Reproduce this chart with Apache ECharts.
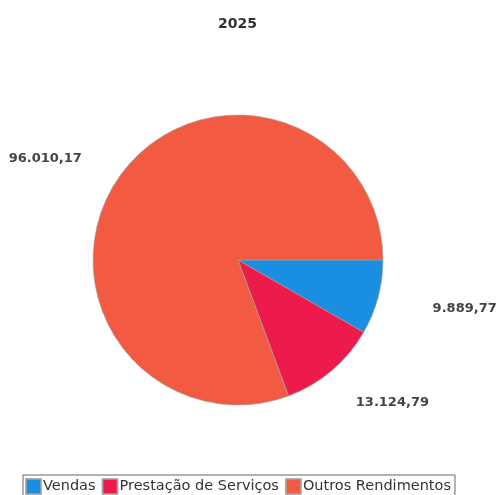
<!DOCTYPE html>
<html>
<head>
<meta charset="utf-8">
<script src="https://cdn.jsdelivr.net/npm/echarts@6/dist/echarts.min.js"></script>
<style>
  html, body { margin: 0; padding: 0; background: #fff; }
  #chart { width: 496px; height: 495px; }
</style>
</head>
<body>
<div id="chart"></div>
<script>
var categories = ['Vendas', 'Prestação de Serviços', 'Outros Rendimentos']
var values = [9889.77, 13124.79, 96010.17]
var colors = ['#1a8ee0', '#ec1b4c', '#f25a42']
// outside label line lengths (lines hidden)
var lineLen = [44, 42, 33]
var lineLen2 = [7, 0, 5]
var labelGap = [5, -3, 5]

function fmt (v) {
  var parts = v.toFixed(2).split('.')
  return parts[0].replace(/\B(?=(\d{3})+(?!\d))/g, '.') + ',' + parts[1]
}

var pieData = categories.map(function (name, i) {
  return {
    name: name,
    value: values[i],
    itemStyle: { color: colors[i] },
    label: { distanceToLabelLine: labelGap[i] },
    labelLine: { show: false, length: lineLen[i], length2: lineLen2[i] }
  }
})

var myChart = echarts.init(document.getElementById('chart'))
myChart.setOption({
  animation: false,
  title: {
    text: '2025',
    left: 213,
    top: 12,
    textStyle: {
      fontFamily: 'DejaVu Sans',
      fontWeight: 'bold',
      fontSize: 14,
      color: '#333'
    }
  },
  legend: {
    bottom: -6,
    left: 23,
    itemWidth: 15,
    itemHeight: 15,
    itemGap: 6,
    borderColor: '#666',
    borderWidth: 1,
    padding: [3, 4, 6, 2],
    icon: 'rect',
    textStyle: {
      fontFamily: 'DejaVu Sans',
      fontSize: 14.5,
      color: '#333',
      padding: [0, 0, 0, -3]
    },
    data: categories
  },
  series: [
    {
      type: 'pie',
      center: [238, 260],
      radius: [0, 145],
      startAngle: 0,
      clockwise: true,
      silent: true,
      itemStyle: { borderColor: 'rgba(160,160,160,0.8)', borderWidth: 0.8 },
      label: {
        show: true,
        position: 'outside',
        overflow: 'none',
        edgeDistance: 0,
        fontFamily: 'DejaVu Sans',
        fontWeight: 'bold',
        fontSize: 13,
        color: '#444',
        formatter: function (p) { return fmt(p.value) }
      },
      data: pieData
    }
  ]
})
</script>
</body>
</html>
